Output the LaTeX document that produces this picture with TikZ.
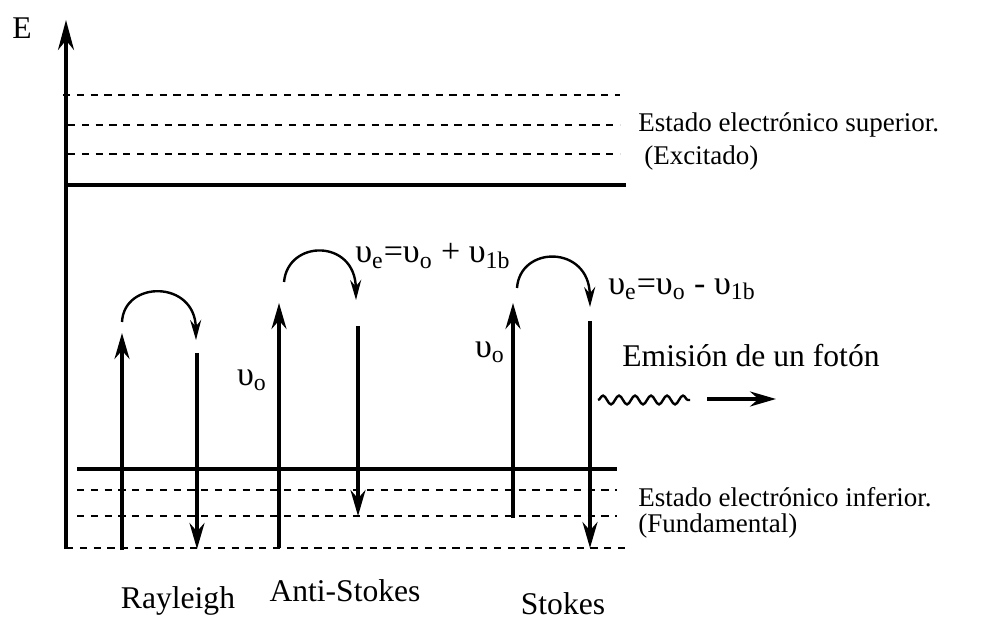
\documentclass[tikz,border=0pt]{standalone}
\usepackage{fontspec}
\setmainfont{Liberation Serif}
\usetikzlibrary{arrows.meta,decorations.pathmorphing}

\begin{document}
\begin{tikzpicture}[x=0.5pt,y=-0.5pt,
  level/.style={line width=1.6pt},
  sublevel/.style={line width=1.1pt,dash pattern=on 3.6pt off 3.3pt},
  transition/.style={line width=1.6pt,-{Stealth[length=13pt,width=7.5pt]}},
  jump/.style={line width=1.2pt,-{Stealth[length=10pt,width=5.5pt]}},
  statelbl/.style={font=\fontsize{13.5}{15}\selectfont,inner sep=0pt},
  biglbl/.style={font=\fontsize{15.8}{18}\selectfont,inner sep=0pt},
  freqlbl/.style={font=\fontsize{17}{19}\selectfont,inner sep=0pt}]
  \useasboundingbox (0,0) rectangle (999,619);

  %energy axis
  \coordinate (axisbot) at (66,549);
  \coordinate (axistop) at (66,20);
  \draw[level,line width=1.7pt,-{Stealth[length=15pt,width=8pt]}] (axisbot) -- (axistop);
  \node[biglbl] (E) at (22,28) {E};

  %upper electronic state
  \foreach \y/\xa in {95/63,125/68,154/68}
    \draw[sublevel] (\xa,\y) -- (620,\y);
  \draw[level] (66,185) -- (626,185);
  \node[statelbl,anchor=west] (sup) at (638,125) {Estado electrónico superior.};
  \node[statelbl,anchor=west] (exc) at (644,158) {(Excitado)};

  %lower electronic state
  \draw[level] (77,469) -- (617,469);
  \foreach \y/\xa/\xb in {490/77/617,516/77/617,548/66/627}
    \draw[sublevel] (\xa,\y) -- (\xb,\y);
  \node[statelbl,anchor=west] (inf) at (638,497) {Estado electrónico inferior.};
  \node[statelbl,anchor=west] (fund) at (638,526) {(Fundamental)};

  %Rayleigh
  \coordinate (R0) at (122,550);
  \coordinate (R1) at (122,333);
  \coordinate (R2) at (197,353);
  \coordinate (R3) at (197,549);
  \draw[transition] (R0) -- (R1);
  \draw[transition] (R2) -- (R3);
  \draw[jump] (122,322) .. controls (124,280) and (195,280) .. (196,340);
  \node[biglbl] (ray) at (178,601) {Rayleigh};

  %Anti-Stokes
  \coordinate (A0) at (279,548);
  \coordinate (A1) at (279,303);
  \coordinate (A2) at (358,326);
  \coordinate (A3) at (358,516);
  \draw[transition] (A0) -- (A1);
  \draw[transition] (A2) -- (A3);
  \draw[jump] (284,282) .. controls (288,239) and (355,239) .. (356,300);
  \node[freqlbl] (nuA) at (252,380) {υ\textsubscript{o}};
  \node[freqlbl,anchor=west] (eqA) at (355,256) {υ\textsubscript{e}=υ\textsubscript{o} + υ\textsubscript{1b}};
  \node[biglbl] (anti) at (345,591) {Anti-Stokes};

  %Stokes
  \coordinate (S0) at (513,518);
  \coordinate (S1) at (513,303);
  \coordinate (S2) at (590,321);
  \coordinate (S3) at (590,548);
  \draw[transition] (S0) -- (S1);
  \draw[transition] (S2) -- (S3);
  \draw[jump] (517,288) .. controls (520,245) and (589,245) .. (590,307);
  \node[freqlbl] (nuS) at (490,352) {υ\textsubscript{o}};
  \node[freqlbl,anchor=west] (eqS) at (608,289) {υ\textsubscript{e}=υ\textsubscript{o} - υ\textsubscript{1b}};
  \node[biglbl] (stk) at (563,604) {Stokes};

  %emitted photon
  \node[biglbl,anchor=west] (emi) at (622,356) {Emisión de un fotón};
  \coordinate (W0) at (598,400);
  \coordinate (W1) at (690,400);
  \draw[line width=1.2pt,decorate,decoration={snake,segment length=8pt,amplitude=2.2pt}] (W0) -- (W1);
  \coordinate (P0) at (707,399);
  \coordinate (P1) at (776,399);
  \draw[transition] (P0) -- (P1);
\end{tikzpicture}
\end{document}
